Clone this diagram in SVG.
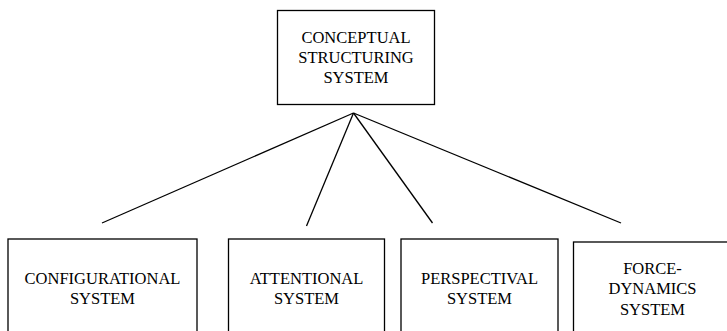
<svg xmlns="http://www.w3.org/2000/svg" width="727" height="331" viewBox="0 0 727 331">
<style>
.box{fill:#fff;stroke:#000;stroke-width:1.3}
.t{font-family:"Liberation Serif","Times New Roman",serif;font-size:16.5px;fill:#000;text-anchor:middle}
.c{stroke:#000;stroke-width:1.3;fill:none}
</style>
<rect width="727" height="331" fill="#fff"/>
<g id="connectors">
<line class="c" x1="353.5" y1="113" x2="102" y2="223"/>
<line class="c" x1="353.5" y1="113" x2="306.5" y2="226"/>
<line class="c" x1="353.5" y1="113" x2="432.5" y2="223"/>
<line class="c" x1="353.5" y1="113" x2="621" y2="223"/>
</g>
<g id="conceptual">
<rect class="box" x="277.5" y="10.5" width="157" height="94"/>
<text class="t" x="356" y="42.7">CONCEPTUAL</text>
<text class="t" x="356" y="62.7">STRUCTURING</text>
<text class="t" x="356" y="83">SYSTEM</text>
</g>
<g id="configurational">
<rect class="box" x="8" y="239" width="189" height="100"/>
<text class="t" x="102.5" y="284">CONFIGURATIONAL</text>
<text class="t" x="102.5" y="303.5">SYSTEM</text>
</g>
<g id="attentional">
<rect class="box" x="228.5" y="239" width="156" height="100"/>
<text class="t" x="306.5" y="284">ATTENTIONAL</text>
<text class="t" x="306.5" y="303.5">SYSTEM</text>
</g>
<g id="perspectival">
<rect class="box" x="401" y="239" width="157" height="100"/>
<text class="t" x="479.5" y="284">PERSPECTIVAL</text>
<text class="t" x="479.5" y="303.5">SYSTEM</text>
</g>
<g id="forcedynamics">
<rect class="box" x="573.5" y="242" width="158" height="100"/>
<text class="t" x="652.5" y="273.5">FORCE-</text>
<text class="t" x="652.5" y="294">DYNAMICS</text>
<text class="t" x="652.5" y="314.5">SYSTEM</text>
</g>
</svg>
